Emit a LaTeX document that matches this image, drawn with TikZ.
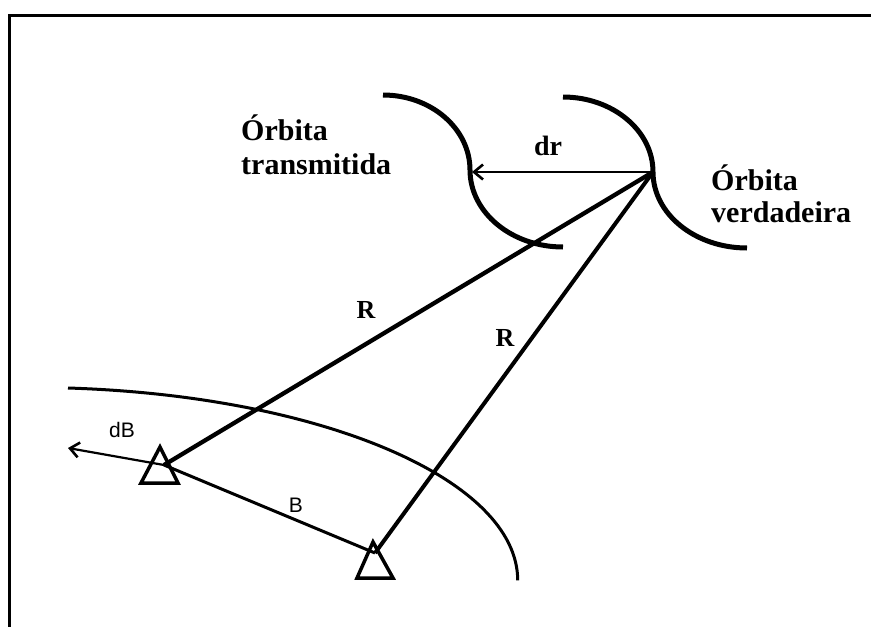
\documentclass[tikz,border=0pt]{standalone}
\usepackage{fontspec}
\setmainfont{Liberation Serif}
\newfontfamily\labsans{Liberation Sans}
\usetikzlibrary{arrows.meta}
\begin{document}
\begin{tikzpicture}[x=1pt,y=-1pt,
  orbit/.style={line width=5pt},
  ray/.style={line width=4.3pt},
  thinarrow/.style={line width=2.2pt,-{Straight Barb[length=9pt,width=15pt,line width=2.6pt]}},
  baseline/.style={line width=3pt},
  bigarc/.style={line width=3pt},
  station/.style={line width=3.5pt,line join=miter},
  serif/.style={font=\bfseries\fontsize{30}{36}\selectfont,inner sep=0pt},
  rlab/.style={font=\bfseries\fontsize{26}{30}\selectfont,inner sep=0pt,anchor=base},
  slab/.style={font=\labsans\fontsize{21}{24}\selectfont,inner sep=0pt,anchor=base}
]
\useasboundingbox (0,0) rectangle (871,627);
% frame
\draw[line width=3pt] (9,627) -- (9,15) -- (871,15);
% orbits
\draw[orbit] (383,95) arc[start angle=-90,end angle=0,x radius=87,y radius=75]
  arc[start angle=180,end angle=90,x radius=93,y radius=77];
\draw[orbit] (563,97) arc[start angle=-90,end angle=0,x radius=90,y radius=75]
  arc[start angle=180,end angle=90,x radius=94,y radius=76];
% key points
\coordinate (sat) at (653,172);
\coordinate (tr) at (472,172);
\coordinate (s1) at (164,465);
\coordinate (s2) at (375,553);
\coordinate (dbtip) at (68,448);
% big arc
\draw[bigarc] (68,388) arc[start angle=-85.5,end angle=0,x radius=488,y radius=193];
% connectors
\draw[thinarrow] (sat) -- (tr);
\draw[ray] (sat) -- (s1);
\draw[ray,line width=4pt] (sat) -- (s2);
\draw[baseline] (s1) -- (s2);
\draw[thinarrow] (s1) -- (dbtip);
% stations
\draw[station] (160,447) -- (178,483) -- (141,483) -- cycle;
\draw[station] (373,542) -- (393,578) -- (357,578) -- cycle;
% labels
\node[serif,anchor=base west] (t1) at (241,140) {Órbita};
\node[serif,anchor=base west] (t2) at (241,174) {transmitida};
\node[serif,anchor=base west] (v1) at (711,190) {Órbita};
\node[serif,anchor=base west] (v2) at (711,222) {verdadeira};
\node[rlab,font=\bfseries\fontsize{28}{30}\selectfont] (dr) at (548,155) {dr};
\node[rlab] (r1) at (366,318) {R};
\node[rlab] (r2) at (505,346) {R};
\node[slab] (db) at (122,437) {dB};
\node[slab] (b) at (296,512) {B};
\end{tikzpicture}
\end{document}
